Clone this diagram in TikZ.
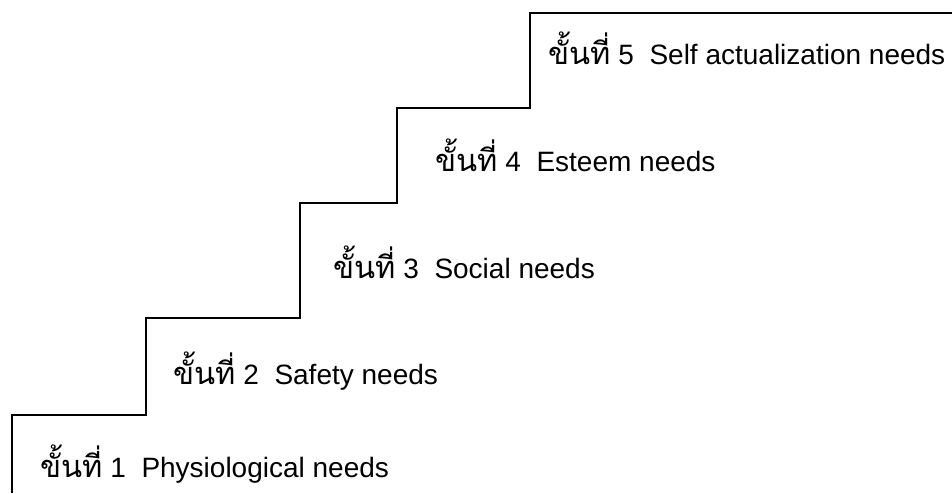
\documentclass[tikz,border=0pt]{standalone}
\usepackage{fontspec}
\setmainfont{Liberation Sans}
\newfontfamily\thaifont[Script=Thai,Scale=1.1]{Loma}
\usepackage{tikz}

\begin{document}
\begin{tikzpicture}[x=1pt,y=-1pt]
\tikzstyle{every node}+=[inner sep=0pt]
\tikzstyle{steplabel}=[anchor=base west,font=\fontsize{28}{34}\selectfont]
\useasboundingbox (0,0) rectangle (952,493);
% the staircase
\draw [black,line width=2.5pt] (12,493) -- (12,415) -- (146,415) -- (146,318) -- (300,318)
  -- (300,203) -- (397,203) -- (397,108) -- (530,108) -- (530,13) -- (952,13);
% the five levels
\node [steplabel] (lvlone) at (40,477) {{\thaifont ขั้นที่} 1\ \ Physiological needs};
\node [steplabel] (lvltwo) at (173,384) {{\thaifont ขั้นที่} 2\ \ Safety needs};
\node [steplabel] (lvlthree) at (333,278) {{\thaifont ขั้นที่} 3\ \ Social needs};
\node [steplabel] (lvlfour) at (435,171) {{\thaifont ขั้นที่} 4\ \ Esteem needs};
\node [steplabel] (lvlfive) at (548,64) {{\thaifont ขั้นที่} 5\ \ Self actualization needs};
\end{tikzpicture}
\end{document}
